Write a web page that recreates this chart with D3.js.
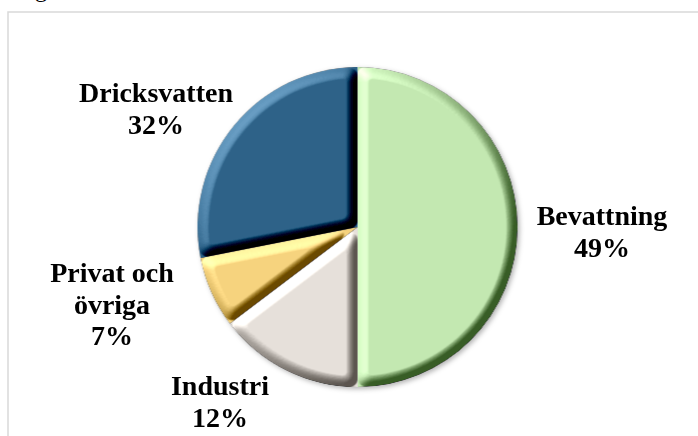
<!DOCTYPE html>
<html>
<head>
<meta charset="utf-8">
<script src="https://cdn.jsdelivr.net/npm/d3@7"></script>
<style>
  html, body { margin: 0; padding: 0; background: #fff; overflow: hidden; }
  #chart { width: 698px; height: 436px; }
</style>
</head>
<body>
<div id="chart"></div>
<script>
// slices, in drawing order (clockwise from 12 o'clock)
var categories = ['Bevattning', 'Industri', 'Privat och övriga', 'Dricksvatten'];
// share of the circle each slice takes in the picture
var sliceShares = [50, 14.7, 7.2, 28.1];
// percentages as printed in the labels
var labelPercents = ['49%', '12%', '7%', '32%'];
var labelLines = [['Bevattning'], ['Industri'], ['Privat och', 'övriga'], ['Dricksvatten']];
var colors = ['#c4e9b2', '#e7e1db', '#f7d47f', '#2e6389'];

var width = 698, height = 436;
var cx = 357.5, cy = 227, radius = 160;

var svg = d3.select('#chart').append('svg')
  .attr('width', width)
  .attr('height', height);

var defs = svg.append('defs');

// angled bevel: a flat band round each slice, lit from the top left
var bevel = defs.append('filter')
  .attr('id', 'bevel')
  .attr('x', '-10%').attr('y', '-10%')
  .attr('width', '120%').attr('height', '120%')
  .attr('color-interpolation-filters', 'sRGB');
bevel.append('feGaussianBlur')
  .attr('in', 'SourceAlpha').attr('stdDeviation', 6).attr('result', 'blur');
bevel.append('feComponentTransfer')
  .attr('in', 'blur').attr('result', 'height')
  .append('feFuncA').attr('type', 'linear').attr('slope', 1.9).attr('intercept', -0.85);
bevel.append('feDiffuseLighting')
  .attr('in', 'height').attr('surfaceScale', 6).attr('diffuseConstant', 0.707)
  .attr('lighting-color', '#fff').attr('result', 'diff')
  .append('feDistantLight').attr('azimuth', 225).attr('elevation', 45);
bevel.append('feComposite')
  .attr('in', 'SourceGraphic').attr('in2', 'diff')
  .attr('operator', 'arithmetic')
  .attr('k1', 0).attr('k2', 1).attr('k3', 1.1).attr('k4', -0.55)
  .attr('result', 'lit');
bevel.append('feComposite')
  .attr('in', 'lit').attr('in2', 'SourceAlpha').attr('operator', 'in');

var shadow = defs.append('filter')
  .attr('id', 'shadow')
  .attr('x', '-10%').attr('y', '-10%')
  .attr('width', '125%').attr('height', '125%');
shadow.append('feDropShadow')
  .attr('dx', 2).attr('dy', 2).attr('stdDeviation', 2.5)
  .attr('flood-color', '#000').attr('flood-opacity', 0.3);

// chart frame (runs off the right and bottom of the picture)
svg.append('rect')
  .attr('x', 8).attr('y', 12)
  .attr('width', 720).attr('height', 460)
  .attr('fill', 'none')
  .attr('stroke', '#d9d9d9')
  .attr('stroke-width', 1.5);

// caption line above, cut off by the top edge
svg.append('text')
  .attr('x', 15).attr('y', -3)
  .attr('font-family', 'Liberation Serif')
  .attr('font-size', 24)
  .text('Figur');

var pie = d3.pie().sort(null).value(function (d) { return d; });
var arc = d3.arc().innerRadius(0).outerRadius(radius);

var arcs = pie(sliceShares);

var pieG = svg.append('g')
  .attr('transform', 'translate(' + cx + ',' + cy + ')')
  .attr('filter', 'url(#shadow)');

pieG.selectAll('g.slice').data(arcs)
  .enter().append('g')
  .attr('class', 'slice')
  .attr('filter', 'url(#bevel)')
  .append('path')
  .attr('d', arc)
  .attr('fill', function (d, i) { return colors[i]; });

// label anchors (first baseline), same order as categories
var labelAnchors = [[602, 225], [220, 395], [112, 282], [156, 102]];
var lineStep = 31.5;

var labels = svg.append('g')
  .attr('font-family', '"Liberation Serif", "Times New Roman", serif')
  .attr('font-weight', 'bold')
  .attr('font-size', 28)
  .attr('fill', '#000')
  .attr('text-anchor', 'middle');

categories.forEach(function (c, i) {
  var lines = labelLines[i].concat([labelPercents[i]]);
  var t = labels.append('text')
    .attr('x', labelAnchors[i][0])
    .attr('y', labelAnchors[i][1]);
  lines.forEach(function (ln, j) {
    t.append('tspan')
      .attr('x', labelAnchors[i][0])
      .attr('dy', j === 0 ? 0 : lineStep)
      .text(ln);
  });
});
</script>
</body>
</html>
